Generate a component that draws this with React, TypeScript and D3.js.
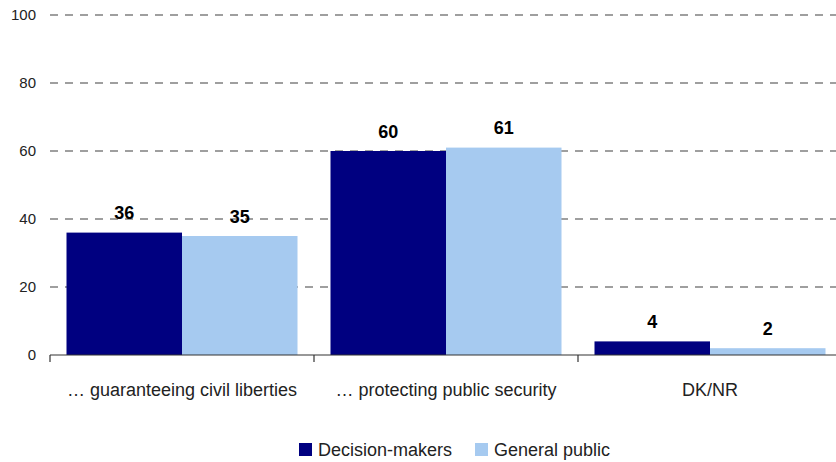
import React from "react";
import * as d3 from "d3";

const categories = ["… guaranteeing civil liberties", "… protecting public security", "DK/NR"];
const seriesNames = ["Decision-makers", "General public"];
const decisionMakers = [36, 60, 4];
const generalPublic = [35, 61, 2];
const yTicks = [0, 20, 40, 60, 80, 100];
const colors = ["#000080", "#A6CAF0"];

const W = 836;
const H = 462;
const margin = { left: 50, top: 15, bottom: 107 };
const plotRight = 842;
const font = "Arial, 'Liberation Sans', sans-serif";

export default function App() {
  const y = d3.scaleLinear().domain([0, 100]).range([H - margin.bottom, margin.top]);
  const x0 = d3.scaleBand<string>().domain(categories).range([margin.left, plotRight]).paddingInner(0.125).paddingOuter(0.0625);
  const x1 = d3.scaleBand<string>().domain(seriesNames).range([0, x0.bandwidth()]);
  const series = [decisionMakers, generalPublic];
  const base = y(0);
  const step = x0.step();

  return (
    <svg width={W} height={H} style={{ position: "absolute", left: 0, top: 0, background: "#fff" }} fontFamily={font}>
      {yTicks.filter((t) => t > 0).map((t) => (
        <line key={"g" + t} x1={margin.left} x2={W} y1={y(t)} y2={y(t)} stroke="#808080" strokeWidth={1.3} strokeDasharray="8,7" />
      ))}
      {yTicks.map((t) => (
        <text key={"t" + t} x={36} y={y(t)} dy="0.35em" textAnchor="end" fontSize={15} fill="#222">{t}</text>
      ))}
      {categories.map((c, i) =>
        series.map((vals, s) => (
          <rect key={c + s} x={(x0(c) ?? 0) + (x1(seriesNames[s]) ?? 0)} y={y(vals[i])} width={x1.bandwidth()} height={base - y(vals[i])} fill={colors[s]} />
        ))
      )}
      {categories.map((c, i) =>
        series.map((vals, s) => (
          <text key={"v" + c + s} x={(x0(c) ?? 0) + (x1(seriesNames[s]) ?? 0) + x1.bandwidth() / 2} y={y(vals[i]) - 13.5} textAnchor="middle" fontSize={18} fontWeight="bold" fill="#000">{vals[i]}</text>
        ))
      )}
      <line x1={margin.left} x2={W} y1={base} y2={base} stroke="#333" strokeWidth={1.2} />
      {categories.map((c, i) => (
        <line key={"k" + i} x1={margin.left + step * i} x2={margin.left + step * i} y1={base} y2={base + 7} stroke="#333" strokeWidth={1.2} />
      ))}
      {categories.map((c) => (
        <text key={"c" + c} x={(x0(c) ?? 0) + x0.bandwidth() / 2} y={396} textAnchor="middle" fontSize={18} fill="#222">{c}</text>
      ))}
      {seriesNames.map((n, s) => {
        const lx = s === 0 ? 299 : 475;
        return (
          <g key={n}>
            <rect x={lx} y={443} width={13} height={13} fill={colors[s]} />
            <text x={lx + 19} y={456} fontSize={18} fill="#222">{n}</text>
          </g>
        );
      })}
    </svg>
  );
}
